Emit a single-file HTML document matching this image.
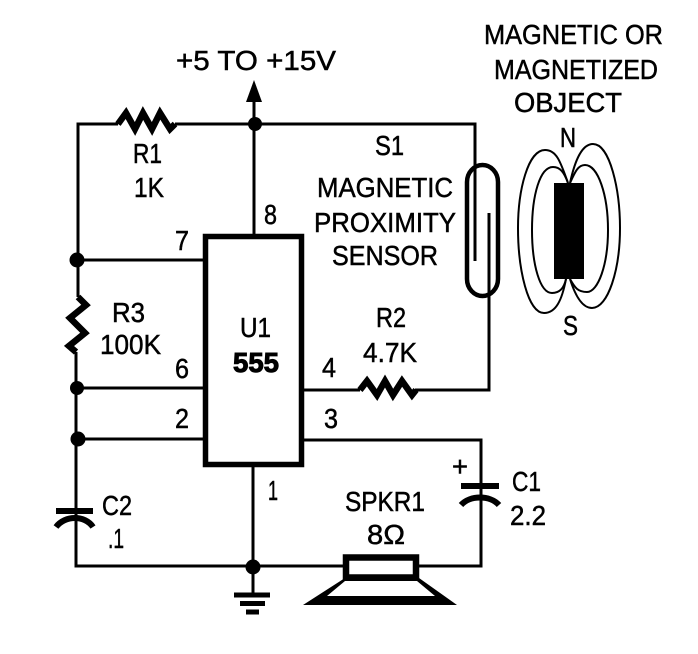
<!DOCTYPE html>
<html><head><meta charset="utf-8"><style>
html,body{margin:0;padding:0;background:#fff;width:698px;height:654px;overflow:hidden}
svg{display:block}
text{font-family:"Liberation Sans",sans-serif;font-size:28px;fill:#000;stroke:#000;stroke-width:.5}
</style></head><body>
<svg width="698" height="654" viewBox="0 0 698 654" xmlns="http://www.w3.org/2000/svg">
<g fill="none" stroke="#000" stroke-width="3" stroke-linejoin="miter">
<path d="M118 124H78V260"/>
<path d="M175 124H475V261"/>
<path d="M254 236V90"/>
<path d="M78 260H203"/>
<path d="M78 260V297M76 352V566H345"/>
<path d="M76 388H203M76 439H203"/>
<path d="M253 466V595"/>
<path d="M302 390H360M415 390H489V213"/>
<path d="M302 440H481V566H418"/>
<path d="M118 124L126 113L135 129L143 113L152 129L160 113L170 129L175 124" stroke-width="6.500"/>
<path d="M360 390L367 381L377 395L385 381L393 395L402 381L412 395L416 390" stroke-width="6.500"/>
<path d="M78 297L86 305L70 318L85 333L69 346L76 352" stroke-width="6.500"/>
<rect x="205.500" y="236.500" width="96" height="228" stroke-width="5.500"/>
<rect x="467" y="165" width="31" height="131" rx="15.500" ry="17" stroke-width="4.500"/>
<path d="M568 183C560 160 556 150 545 150C528 150 518 190 518 228C518 270 528 313 544 313C556 313 562 300 566 279" stroke-width="2"/>
<path d="M568 183C564 172 560 167 553 167C540 167 532 195 532 230C532 265 540 293 552 293C560 293 564 288 566 279" stroke-width="2"/>
<path d="M570 183C575 160 582 144 593 144C610 144 620 190 620 228C620 270 608 308 592 308C582 308 575 295 570 279" stroke-width="2"/>
<path d="M570 183C575 172 578 165 585 165C598 165 608 195 608 230C608 265 598 292 587 292C578 292 575 288 570 279" stroke-width="2"/>
<rect x="346" y="557.500" width="70" height="20" stroke-width="6.500"/>
<path d="M461 486H499" stroke-width="6"/>
<path d="M461 505C470 495 490 495 499 505" stroke-width="6"/>
<path d="M56 511H93" stroke-width="6"/>
<path d="M56 527C65 515 85 515 93 527" stroke-width="6"/>
<path d="M234 595H270" stroke-width="5"/>
<path d="M240 603.500H265" stroke-width="5"/>
<path d="M246 612H259" stroke-width="5"/>
</g>
<path d="M303 605L345 578H419L457 605ZM327 596H435L417 581H345Z" fill="#000" fill-rule="evenodd"/>
<rect x="554" y="183" width="30" height="96" fill="#000"/>
<path d="M254 80L262 102H246Z" fill="#000"/>
<g fill="#000">
<circle cx="255" cy="124" r="7"/>
<circle cx="77" cy="260" r="7.500"/>
<circle cx="77" cy="388" r="7"/>
<circle cx="78" cy="439" r="7.500"/>
<circle cx="253" cy="567" r="7.500"/>
</g>
<text x="176" y="70" textLength="160" lengthAdjust="spacingAndGlyphs">+5 TO +15V</text>
<text x="484" y="44" textLength="179" lengthAdjust="spacingAndGlyphs">MAGNETIC OR</text>
<text x="494" y="79" textLength="164" lengthAdjust="spacingAndGlyphs">MAGNETIZED</text>
<text x="514" y="112" textLength="108" lengthAdjust="spacingAndGlyphs">OBJECT</text>
<text x="560" y="147" textLength="16" lengthAdjust="spacingAndGlyphs">N</text>
<text x="563" y="335" textLength="15" lengthAdjust="spacingAndGlyphs">S</text>
<text x="375" y="155" textLength="29" lengthAdjust="spacingAndGlyphs">S1</text>
<text x="317" y="197" textLength="136" lengthAdjust="spacingAndGlyphs">MAGNETIC</text>
<text x="314" y="232" textLength="142" lengthAdjust="spacingAndGlyphs">PROXIMITY</text>
<text x="332" y="265" textLength="106" lengthAdjust="spacingAndGlyphs">SENSOR</text>
<text x="133" y="163" textLength="29" lengthAdjust="spacingAndGlyphs">R1</text>
<text x="134" y="197" textLength="30" lengthAdjust="spacingAndGlyphs">1K</text>
<text x="175" y="250" textLength="14" lengthAdjust="spacingAndGlyphs">7</text>
<text x="264" y="224" textLength="13" lengthAdjust="spacingAndGlyphs">8</text>
<text x="112" y="322" textLength="33" lengthAdjust="spacingAndGlyphs">R3</text>
<text x="100" y="354" textLength="61" lengthAdjust="spacingAndGlyphs">100K</text>
<text x="175" y="378" textLength="14" lengthAdjust="spacingAndGlyphs">6</text>
<text x="175" y="428" textLength="14" lengthAdjust="spacingAndGlyphs">2</text>
<text x="240" y="337" textLength="31" lengthAdjust="spacingAndGlyphs">U1</text>
<text x="233" y="372" textLength="46" lengthAdjust="spacingAndGlyphs" font-weight="700" style="stroke-width:1">555</text>
<text x="322" y="377" textLength="14" lengthAdjust="spacingAndGlyphs">4</text>
<text x="376" y="327" textLength="30" lengthAdjust="spacingAndGlyphs">R2</text>
<text x="363" y="362" textLength="54" lengthAdjust="spacingAndGlyphs">4.7K</text>
<text x="324" y="428" textLength="14" lengthAdjust="spacingAndGlyphs">3</text>
<text x="268" y="500" textLength="10" lengthAdjust="spacingAndGlyphs">1</text>
<text x="345" y="511" textLength="80" lengthAdjust="spacingAndGlyphs">SPKR1</text>
<text x="367" y="544" textLength="38" lengthAdjust="spacingAndGlyphs">8Ω</text>
<text x="512" y="491" textLength="29" lengthAdjust="spacingAndGlyphs">C1</text>
<text x="510" y="525" textLength="36" lengthAdjust="spacingAndGlyphs">2.2</text>
<text x="102" y="515" textLength="30" lengthAdjust="spacingAndGlyphs">C2</text>
<text x="108" y="548" textLength="16" lengthAdjust="spacingAndGlyphs">.1</text>
<text x="452" y="476" textLength="16" lengthAdjust="spacingAndGlyphs">+</text>
</svg>
</body></html>
